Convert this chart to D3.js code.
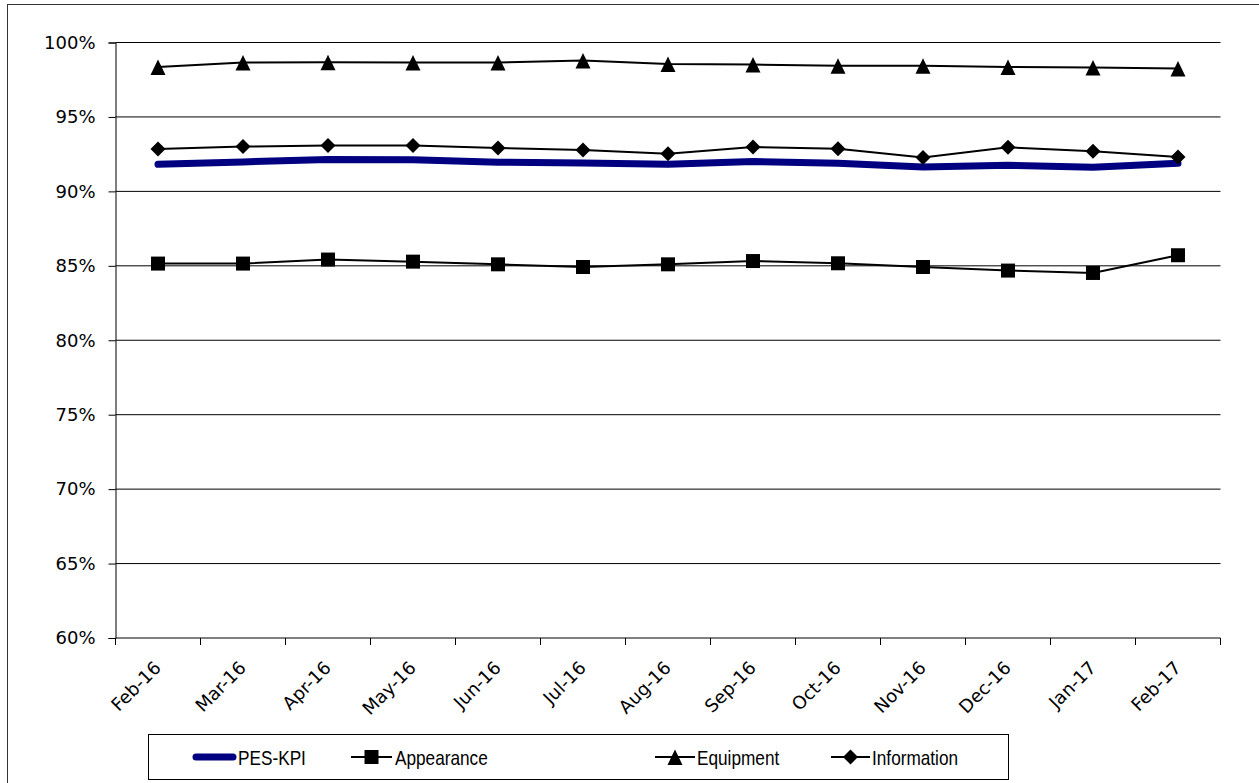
<!DOCTYPE html>
<html>
<head>
<meta charset="utf-8">
<script src="https://cdn.jsdelivr.net/npm/d3@7"></script>
<style>
  html, body { margin: 0; padding: 0; background: #fff; }
  svg { display: block; }
</style>
</head>
<body>
<svg id="chart" width="1259" height="783"></svg>
<script>
// Monthly satisfaction scores (percent)
const months = ["Feb-16", "Mar-16", "Apr-16", "May-16", "Jun-16", "Jul-16", "Aug-16",
                "Sep-16", "Oct-16", "Nov-16", "Dec-16", "Jan-17", "Feb-17"];
const pesKpi      = [91.82, 91.98, 92.14, 92.12, 91.96, 91.91, 91.82, 92.00, 91.89, 91.64, 91.75, 91.62, 91.89];
const appearance  = [85.15, 85.15, 85.42, 85.28, 85.10, 84.92, 85.10, 85.32, 85.17, 84.92, 84.68, 84.52, 85.71];
const equipment   = [98.36, 98.66, 98.68, 98.66, 98.66, 98.79, 98.55, 98.52, 98.43, 98.43, 98.36, 98.32, 98.25];
const information = [92.85, 93.01, 93.08, 93.08, 92.92, 92.78, 92.53, 92.98, 92.87, 92.27, 92.96, 92.69, 92.31];
const yTicks = [60, 65, 70, 75, 80, 85, 90, 95, 100];
const seriesNames = ["PES-KPI", "Appearance", "Equipment", "Information"];

const svg = d3.select("#chart");
const tickFont = "'DejaVu Sans', Verdana, sans-serif";

// outer chart frame
svg.append("rect")
  .attr("x", 7.5).attr("y", 4.5)
  .attr("width", 1260).attr("height", 790)
  .attr("fill", "#fff").attr("stroke", "#333").attr("stroke-width", 1);

const plot = { left: 115.5, right: 1220.5, top: 42.5, bottom: 638 };

const y = d3.scaleLinear().domain([60, 100]).range([plot.bottom, plot.top]);
const x = d3.scalePoint().domain(months).range([plot.left, plot.right]).padding(0.5);
const xb = d3.scaleBand().domain(months).range([plot.left, plot.right]);

// horizontal gridlines
svg.append("g").selectAll("line")
  .data(yTicks.filter(t => t > 60))
  .join("line")
  .attr("x1", plot.left).attr("x2", plot.right)
  .attr("y1", d => y(d)).attr("y2", d => y(d))
  .attr("stroke", "#000").attr("stroke-width", 1);

// y axis
const yAxis = svg.append("g")
  .attr("transform", `translate(${plot.left},0)`)
  .call(d3.axisLeft(y).tickValues(yTicks).tickSize(7).tickPadding(13).tickFormat(d => d + "%"));
yAxis.select(".domain").attr("stroke", "#000");
yAxis.selectAll(".tick line").attr("stroke", "#000");
yAxis.selectAll("text")
  .style("font-family", tickFont)
  .style("font-size", "18px").attr("fill", "#000");

// x axis: line, boundary ticks, rotated labels
const xAxis = svg.append("g");
xAxis.append("line")
  .attr("x1", plot.left).attr("x2", plot.right)
  .attr("y1", plot.bottom).attr("y2", plot.bottom)
  .attr("stroke", "#000");
const bounds = months.map(m => xb(m)).concat([xb(months[months.length - 1]) + xb.bandwidth()]);
xAxis.selectAll("line.tk").data(bounds).join("line")
  .attr("class", "tk")
  .attr("x1", d => d).attr("x2", d => d)
  .attr("y1", plot.bottom).attr("y2", plot.bottom + 7)
  .attr("stroke", "#000");
xAxis.selectAll("text").data(months).join("text")
  .attr("transform", d => `translate(${x(d) + 4},${plot.bottom + 31}) rotate(-45)`)
  .attr("text-anchor", "end")
  .style("font-family", tickFont)
  .style("font-size", "18px")
  .attr("fill", "#000")
  .text(d => d);

// marker shapes
const markers = {
  square: "M-7,-7H7V7H-7Z",
  triangle: "M0,-7.5L7.5,8L-7.5,8Z",
  diamond: "M0,-7.5L7.5,0L0,7.5L-7.5,0Z"
};

const line = d3.line().x((d, i) => x(months[i])).y(d => y(d));

// PES-KPI: thick navy line, no markers
svg.append("path")
  .datum(pesKpi)
  .attr("d", line)
  .attr("fill", "none")
  .attr("stroke", "#000080")
  .attr("stroke-width", 7)
  .attr("stroke-linecap", "round")
  .attr("stroke-linejoin", "round");

function drawSeries(values, shape) {
  const g = svg.append("g");
  g.append("path")
    .datum(values)
    .attr("d", line)
    .attr("fill", "none")
    .attr("stroke", "#000")
    .attr("stroke-width", 2);
  g.selectAll("path.mk").data(values).join("path")
    .attr("class", "mk")
    .attr("transform", (d, i) => `translate(${x(months[i])},${y(d)})`)
    .attr("d", markers[shape])
    .attr("fill", "#000");
}
drawSeries(appearance, "square");
drawSeries(equipment, "triangle");
drawSeries(information, "diamond");

// legend
const legend = svg.append("g");
legend.append("rect")
  .attr("x", 148.5).attr("y", 734.5)
  .attr("width", 860).attr("height", 45)
  .attr("fill", "#fff").attr("stroke", "#000");

const legendItems = [
  { name: seriesNames[0], x1: 193, x2: 236, tx: 238, kind: "kpi" },
  { name: seriesNames[1], x1: 351, x2: 392, tx: 395, kind: "square" },
  { name: seriesNames[2], x1: 655, x2: 695, tx: 697, kind: "triangle" },
  { name: seriesNames[3], x1: 831, x2: 870, tx: 872, kind: "diamond" }
];
const ly = 757;
legendItems.forEach(it => {
  if (it.kind === "kpi") {
    legend.append("line")
      .attr("x1", it.x1 + 3).attr("x2", it.x2 - 3)
      .attr("y1", ly).attr("y2", ly)
      .attr("stroke", "#000080").attr("stroke-width", 7)
      .attr("stroke-linecap", "round");
  } else {
    legend.append("line")
      .attr("x1", it.x1).attr("x2", it.x2)
      .attr("y1", ly).attr("y2", ly)
      .attr("stroke", "#000").attr("stroke-width", 2);
    legend.append("path")
      .attr("transform", `translate(${(it.x1 + it.x2) / 2},${ly})`)
      .attr("d", markers[it.kind])
      .attr("fill", "#000");
  }
  // narrow legend lettering
  legend.append("text")
    .attr("transform", `translate(${it.tx},765) scale(0.82,1)`)
    .style("font-family", "'Liberation Sans', Arial, sans-serif")
    .style("font-size", "21px")
    .attr("fill", "#000")
    .text(it.name);
});
</script>
</body>
</html>
